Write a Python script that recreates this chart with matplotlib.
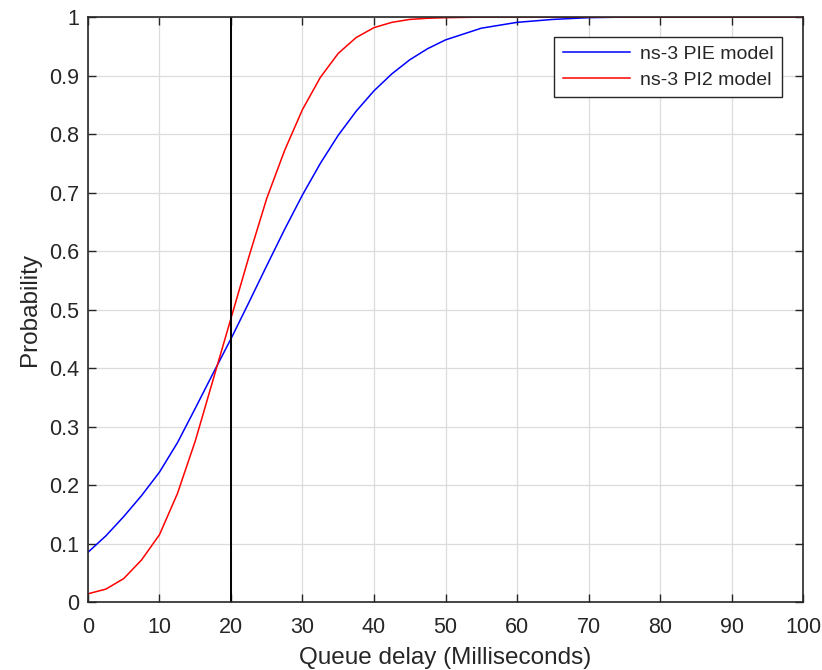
import matplotlib
matplotlib.use("Agg")
import matplotlib.pyplot as plt

plt.rcParams["font.family"] = ["Liberation Sans", "DejaVu Sans"]

# queue delay (ms) and probability
pie_delay = [0, 2.5, 5, 7.5, 10, 12.5, 15, 17.5, 20, 22.5, 25, 27.5, 30, 32.5,
             35, 37.5, 40, 42.5, 45, 47.5, 50, 55, 60, 65, 70, 75, 80, 90, 100]
pie_prob = [0.085, 0.113, 0.146, 0.182, 0.222, 0.272, 0.331, 0.391, 0.450,
            0.512, 0.575, 0.637, 0.696, 0.750, 0.798, 0.839, 0.874, 0.903,
            0.927, 0.946, 0.961, 0.981, 0.991, 0.996, 0.999, 1.0, 1.0, 1.0, 1.0]

pi2_delay = [0, 2.5, 5, 7.5, 10, 12.5, 15, 17.5, 20, 22.5, 25, 27.5, 30, 32.5,
             35, 37.5, 40, 42.5, 45, 47.5, 50, 55, 60, 70, 80, 90, 100]
pi2_prob = [0.014, 0.022, 0.040, 0.072, 0.115, 0.185, 0.275, 0.380, 0.485,
            0.590, 0.690, 0.772, 0.842, 0.897, 0.938, 0.965, 0.982, 0.991,
            0.996, 0.998, 0.999, 1.0, 1.0, 1.0, 1.0, 1.0, 1.0]

marker_delay = 20
x_ticks = list(range(0, 101, 10))
y_ticks = [0, 0.1, 0.2, 0.3, 0.4, 0.5, 0.6, 0.7, 0.8, 0.9, 1]
y_labels = ["0", "0.1", "0.2", "0.3", "0.4", "0.5", "0.6", "0.7", "0.8", "0.9", "1"]

INK = "#262626"

fig = plt.figure(figsize=(8.22, 6.70), dpi=100)
ax = fig.add_axes([0.107, 0.1015, 0.870, 0.873])

ax.plot(pie_delay, pie_prob, color="#0000ff", lw=1.1, label="ns-3 PIE model")
ax.plot(pi2_delay, pi2_prob, color="#ff0000", lw=1.1, label="ns-3 PI2 model")
ax.axvline(marker_delay, color="black", lw=1.4)

ax.set_xlim(0, 100)
ax.set_ylim(0, 1)
ax.set_xticks(x_ticks)
ax.set_yticks(y_ticks)
ax.set_yticklabels(y_labels)
ax.grid(True, color="#dcdcdc", lw=0.9)
ax.set_axisbelow(True)

ax.tick_params(direction="in", length=6, width=1.0, colors=INK,
               labelsize=15.5, top=True, right=True)
ax.tick_params(axis="x", pad=11)
ax.tick_params(axis="y", pad=6)
for s in ax.spines.values():
    s.set_color(INK)
    s.set_linewidth(1.2)

ax.set_xlabel("Queue delay (Milliseconds)", fontsize=17.5, color=INK, labelpad=6)
ax.set_ylabel("Probability", fontsize=17.5, color=INK, labelpad=6)

leg = ax.legend(loc="upper right", bbox_to_anchor=(0.984, 0.983), fontsize=14,
                fancybox=False, framealpha=1, edgecolor=INK, handlelength=3.45,
                borderpad=0.45, labelspacing=0.4, handletextpad=0.5)
leg.get_frame().set_linewidth(1.0)
for t in leg.get_texts():
    t.set_color(INK)

fig.savefig("out.png", dpi=100)
